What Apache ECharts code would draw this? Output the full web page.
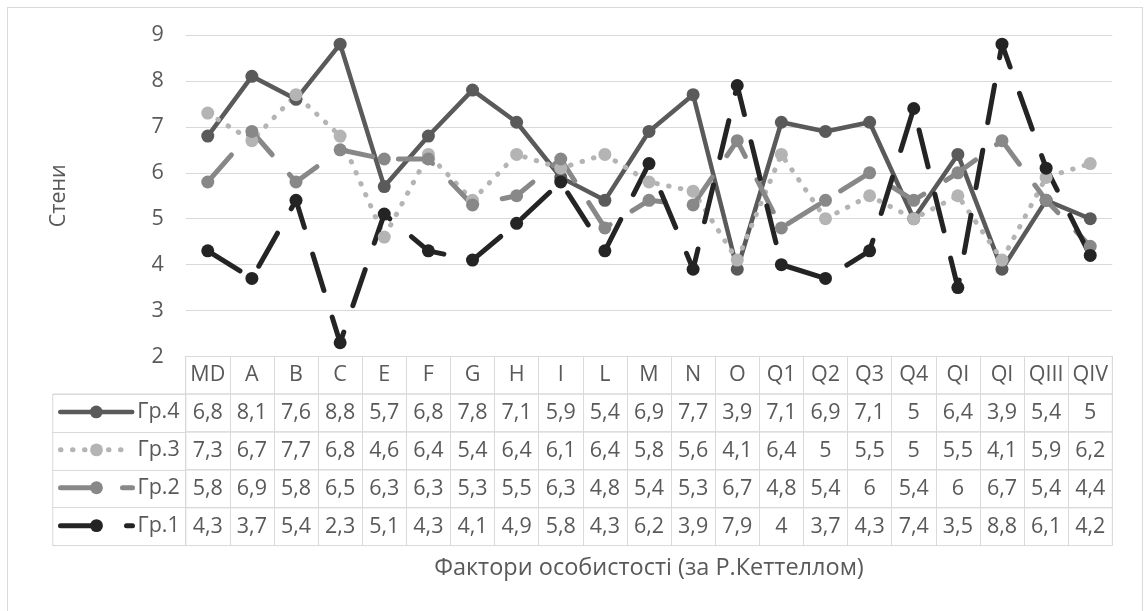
<!DOCTYPE html>
<html>
<head>
<meta charset="utf-8">
<script src="https://cdn.jsdelivr.net/npm/echarts@6/dist/echarts.min.js"></script>
<style>
html,body{margin:0;padding:0;background:#fff;overflow:hidden;}
#frame{position:absolute;left:7px;top:7px;width:1134px;height:700px;border:1px solid #d9d9d9;}
#chart{position:absolute;left:0;top:0;width:1144px;height:611px;}
</style>
</head>
<body>
<div id="frame"></div>
<div id="chart"></div>
<script>
const categories = ['MD','A','B','C','E','F','G','H','I','L','M','N','O','Q1','Q2','Q3','Q4','QI','QI','QIII','QIV'];
const seriesNames = ['Гр.4','Гр.3','Гр.2','Гр.1'];
const gr4 = [6.8,8.1,7.6,8.8,5.7,6.8,7.8,7.1,5.9,5.4,6.9,7.7,3.9,7.1,6.9,7.1,5,6.4,3.9,5.4,5];
const gr3 = [7.3,6.7,7.7,6.8,4.6,6.4,5.4,6.4,6.1,6.4,5.8,5.6,4.1,6.4,5,5.5,5,5.5,4.1,5.9,6.2];
const gr2 = [5.8,6.9,5.8,6.5,6.3,6.3,5.3,5.5,6.3,4.8,5.4,5.3,6.7,4.8,5.4,6,5.4,6,6.7,5.4,4.4];
const gr1 = [4.3,3.7,5.4,2.3,5.1,4.3,4.1,4.9,5.8,4.3,6.2,3.9,7.9,4,3.7,4.3,7.4,3.5,8.8,6.1,4.2];
const yMin = 2, yMax = 9, yStep = 1;
const yTitle = 'Стени';
const xTitle = 'Фактори особистості (за Р.Кеттеллом)';

const seriesData = [gr4, gr3, gr2, gr1];
const colors = ['#5a5a5a', '#b4b4b4', '#888888', '#242424'];
const widths = [4.5, 5, 5, 5];
const dashes = ['solid', [0.5, 11.5], [36, 26], [38, 28]];

const txt = '#595959';
const gridC = '#d9d9d9';
const FS = 21.5;
const FT = 23.5;
const FF = 'Open Sans';
const L = 185.7, R = 1144 - 1112.3;
const plotTop = 35, plotBottom = 356.5;
const rowH = 37.9;
const headTop = plotBottom;
const rowTop0 = headTop + 37.5;
const fmt = v => String(v).replace('.', ',');

const grids = [{left: L, right: R, top: plotTop, height: plotBottom - plotTop}];
grids.push({left: L, right: R, top: headTop, height: 37.5, show: true, borderColor: gridC, borderWidth: 1});
for (let i = 0; i < 4; i++) {
  grids.push({left: L, right: R, top: rowTop0 + i * rowH, height: rowH, show: true, borderColor: gridC, borderWidth: 1});
}
grids.push({left: 52.7, width: L - 52.7, top: rowTop0, height: 4 * rowH, show: true, borderColor: gridC, borderWidth: 1});

function rowAxis(gi, data, h, extra) {
  return Object.assign({
    gridIndex: gi, type: 'category', data: data, boundaryGap: true,
    axisLine: {show: false}, axisTick: {show: false},
    splitLine: {show: true, lineStyle: {color: gridC, width: 1}},
    axisLabel: {margin: -h / 2, verticalAlign: 'middle', fontSize: FS, color: txt, fontFamily: FF, interval: 0}
  }, extra || {});
}

const xAxes = [{
  gridIndex: 0, type: 'category', data: categories, boundaryGap: true,
  axisLine: {show: true, lineStyle: {color: gridC, width: 1}}, axisTick: {show: false}, axisLabel: {show: false}
}];
xAxes.push(rowAxis(1, categories, 37.5));
for (let i = 0; i < 4; i++) {
  const extra = i === 3 ? {
    name: xTitle, nameLocation: 'middle', nameGap: 11,
    nameTextStyle: {fontSize: FT, color: txt, fontFamily: FF, verticalAlign: 'top'}
  } : {};
  xAxes.push(rowAxis(2 + i, seriesData[i].map(fmt), rowH, extra));
}
xAxes.push({gridIndex: 6, type: 'value', show: false});

const yAxes = [{
  gridIndex: 0, type: 'value', min: yMin, max: yMax, interval: yStep,
  axisLine: {show: false}, axisTick: {show: false},
  splitLine: {show: true, lineStyle: {color: gridC, width: 1}},
  axisLabel: {fontSize: FS, color: txt, fontFamily: FF, margin: 22},
  name: yTitle, nameLocation: 'middle', nameGap: 116, nameRotate: 90,
  nameTextStyle: {fontSize: FS, color: txt, fontFamily: FF}
}];
for (let i = 1; i <= 5; i++) yAxes.push({gridIndex: i, type: 'value', show: false});
yAxes.push({
  gridIndex: 6, type: 'category', data: seriesNames, inverse: true, boundaryGap: true,
  axisLine: {show: false}, axisTick: {show: false}, axisLabel: {show: false},
  splitLine: {show: true, lineStyle: {color: gridC, width: 1}}
});

const series = seriesNames.map((n, i) => ({
  name: n, type: 'line', xAxisIndex: 0, yAxisIndex: 0, data: seriesData[i],
  symbol: 'circle', symbolSize: 13, showSymbol: true,
  lineStyle: {color: colors[i], width: widths[i], type: dashes[i], cap: 'round', join: 'round'},
  itemStyle: {color: colors[i]},
  emphasis: {disabled: true}
}));

const legends = seriesNames.map((n, i) => ({
  data: [n], left: 58, top: rowTop0 + i * rowH + rowH / 2 - 12,
  padding: 0, itemGap: 0, itemWidth: 72, itemHeight: 16, selectedMode: false,
  lineStyle: {width: widths[i], type: dashes[i], cap: 'round', color: colors[i]},
  textStyle: {fontSize: FS, color: txt, fontFamily: FF}
}));

const chart = echarts.init(document.getElementById('chart'), null, {renderer: 'canvas'});
chart.setOption({
  animation: false,
  textStyle: {fontFamily: FF},
  grid: grids, xAxis: xAxes, yAxis: yAxes, series: series, legend: legends
});
</script>
</body>
</html>
